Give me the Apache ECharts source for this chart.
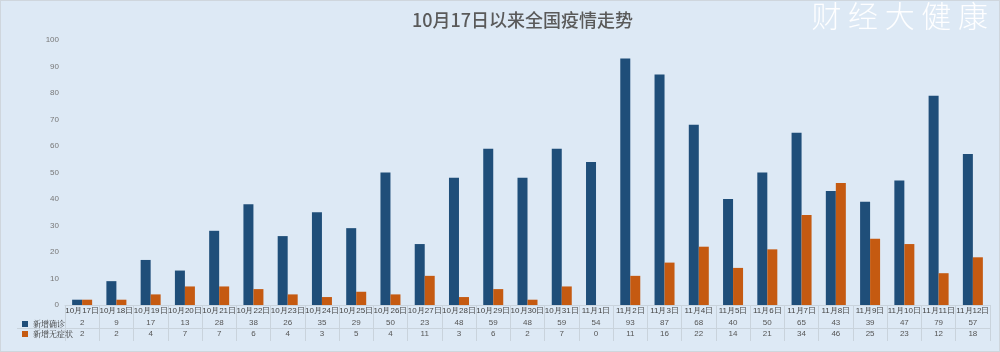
<!DOCTYPE html>
<html lang="zh">
<head>
<meta charset="UTF-8">
<title>10月17日以来全国疫情走势</title>
<style>
  html, body { margin: 0; padding: 0; background: #dde9f5; }
  #main { width: 998px; height: 350px; border: 1px solid #cfd6dd; }
</style>
</head>
<body>
<div id="main"></div>
<script src="https://cdn.jsdelivr.net/npm/echarts@6/dist/echarts.min.js"></script>
<script>
// 日期
var days = ['10月17日','10月18日','10月19日','10月20日','10月21日','10月22日','10月23日','10月24日','10月25日',
  '10月26日','10月27日','10月28日','10月29日','10月30日','10月31日','11月1日','11月2日','11月3日',
  '11月4日','11月5日','11月6日','11月7日','11月8日','11月9日','11月10日','11月11日','11月12日'];
// 新增确诊
var confirmed = [2, 9, 17, 13, 28, 38, 26, 35, 29, 50, 23, 48, 59, 48, 59, 54, 93, 87, 68, 40, 50, 65, 43, 39, 47, 79, 57];
// 新增无症状
var asymptomatic = [2, 2, 4, 7, 7, 6, 4, 3, 5, 4, 11, 3, 6, 2, 7, 0, 11, 16, 22, 14, 21, 34, 46, 25, 23, 12, 18];

var chart = echarts.init(document.getElementById('main'));
var tableLine = { color: '#c9d3dc', width: 1 };
var cellFont = { fontSize: 8, color: '#555', fontFamily: 'Liberation Sans' };

chart.setOption({
  backgroundColor: '#dde9f5',
  title: {
    text: '10月17日以来全国疫情走势',
    left: 406, top: 5,
    textStyle: { fontSize: 18, color: '#5a5a5a', fontWeight: 500, fontFamily: 'Noto Sans CJK SC' }
  },
  graphic: [{
    type: 'text', right: 11, top: 0,
    style: { text: '财 经 大 健 康', fontSize: 30, fill: 'rgba(255,255,255,0.95)', fontFamily: 'Noto Sans CJK SC', fontWeight: 300 }
  }, {
    // 表格左侧横线
    type: 'line', shape: { x1: 16, y1: 327.5, x2: 64, y2: 327.5 },
    style: { stroke: '#c9d3dc', lineWidth: 1 }
  }],
  legend: {
    orient: 'vertical', left: 16, top: 314,
    itemWidth: 6, itemHeight: 6, itemGap: 2,
    icon: 'rect',
    textStyle: { fontSize: 8, color: '#333', fontFamily: 'Noto Serif CJK SC, serif' },
    data: ['新增确诊', '新增无症状']
  },
  grid: { left: 64, right: 9, top: 39, bottom: 46 },
  xAxis: [{
    type: 'category', data: days,
    axisLine: { lineStyle: tableLine },
    axisTick: { show: true, length: 36, lineStyle: tableLine },
    axisLabel: { interval: 0, margin: 2, fontSize: 8, color: '#444', fontFamily: 'Liberation Sans' }
  }, {
    type: 'category', position: 'bottom', offset: 12,
    data: confirmed.map(String),
    axisLine: { show: false },
    axisTick: { show: false },
    axisLabel: Object.assign({ interval: 0, margin: 2 }, cellFont)
  }, {
    type: 'category', position: 'bottom', offset: 23,
    data: asymptomatic.map(String),
    axisLine: { show: true, lineStyle: tableLine },
    axisTick: { show: false },
    axisLabel: Object.assign({ interval: 0, margin: 2 }, cellFont)
  }],
  yAxis: {
    type: 'value', min: 0, max: 100, interval: 10,
    splitLine: { show: false },
    axisLine: { show: false },
    axisLabel: { fontSize: 8, color: '#777', margin: 6, fontFamily: 'Liberation Sans' }
  },
  series: [{
    name: '新增确诊', type: 'bar', data: confirmed,
    barWidth: 10, barGap: '0%',
    itemStyle: { color: '#1f4e79' }
  }, {
    name: '新增无症状', type: 'bar', data: asymptomatic,
    barWidth: 10,
    itemStyle: { color: '#c55a11' }
  }]
});
</script>
</body>
</html>
